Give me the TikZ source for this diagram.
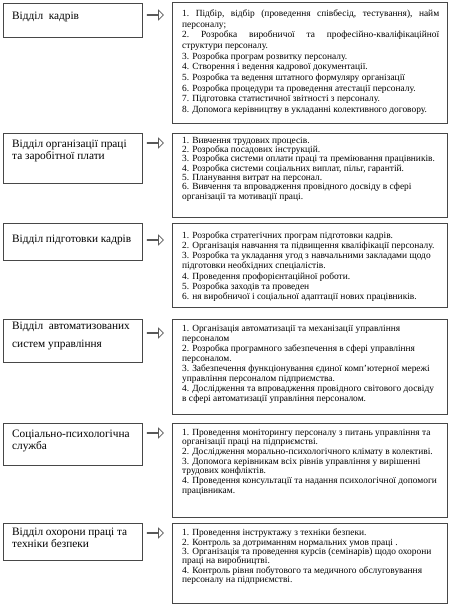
\documentclass[tikz,border=0pt]{standalone}
\usepackage{fontspec}
\setmainfont{Liberation Serif}
\usetikzlibrary{shapes.arrows}
\newcommand\jline[1]{\makebox[257pt][s]{\frenchspacing\spaceskip=0pt\xspaceskip=0pt #1}}
\newcommand\nsp{\hspace{3pt}}
\tikzset{
  boxline/.style={draw=black!72, line width=1.1pt, rectangle, inner sep=0pt, anchor=north west},
  leftbox/.style={boxline, minimum width=139pt},
  rightbox/.style={boxline, minimum width=275pt},
  ltext/.style={anchor=north west, inner sep=0pt, align=flush left, font=\fontsize{11.3}{12}\selectfont},
  rtext/.style={anchor=north west, inner sep=0pt, text width=262pt, align=flush left},
  blockarrow/.style={single arrow, draw=black!65, fill=white, line width=0.7pt,
    minimum height=16pt, minimum width=9.5pt, single arrow head extend=2.6pt, inner sep=0pt}
}
\begin{document}
\begin{tikzpicture}[x=1pt, y=-1pt]
\useasboundingbox (0,0) rectangle (452,607);
% ---------- row 1
\node[leftbox, minimum height=34pt] (l1) at (3,3) {};
\node[ltext] (lt1) at (12,12) {Відділ\ \ кадрів};
\node[blockarrow] (a1) at (155,15) {};
\node[rightbox, minimum height=121pt] (r1) at (172,2) {};
\node[rtext, font=\fontsize{9.4}{10.67}\selectfont] (rt1) at (182,9.7) {%
\jline{1. Підбір, відбір (проведення співбесід, тестування), найм}\\
персоналу;\\
\jline{2. Розробка виробничої та професійно-кваліфікаційної}\\
структури персоналу.\\
3.\nsp Розробка програм розвитку персоналу.\\
4.\nsp Створення і ведення кадрової документації.\\
5.\nsp Розробка та ведення штатного формуляру організації\\
6.\nsp Розробка процедури та проведення атестації персоналу.\\
7.\nsp Підготовка статистичної звітності з персоналу.\\
8.\nsp Допомога керівництву в укладанні колективного договору.};
% ---------- row 2
\node[leftbox, minimum height=50pt] (l2) at (3,133) {};
\node[ltext] (lt2) at (12,140) {Відділ організації праці\\та заробітної плати};
\node[blockarrow] (a2) at (155,143) {};
\node[rightbox, minimum height=84pt] (r2) at (172,133) {};
\node[rtext, font=\fontsize{9.4}{9.33}\selectfont] (rt2) at (182,136.7) {%
1.\nsp Вивчення трудових процесів.\\
2.\nsp Розробка посадових інструкцій.\\
3.\nsp Розробка системи оплати праці та преміювання працівників.\\
4.\nsp Розробка системи соціальних виплат, пільг, гарантій.\\
5.\nsp Планування витрат на персонал.\\
6.\nsp Вивчення та впровадження провідного досвіду в сфері\\
організації та мотивації праці.};
% ---------- row 3
\node[leftbox, minimum height=37pt] (l3) at (3,223) {};
\node[ltext] (lt3) at (12,235) {Відділ підготовки кадрів};
\node[blockarrow] (a3) at (155,240) {};
\node[rightbox, minimum height=84pt] (r3) at (172,223) {};
\node[rtext, font=\fontsize{9.4}{10.1}\selectfont] (rt3) at (182,231.7) {%
1.\nsp Розробка стратегічних програм підготовки кадрів.\\
2.\nsp Організація навчання та підвищення кваліфікації персоналу.\\
3.\nsp Розробка та укладання угод з навчальними закладами щодо\\
підготовки необхідних спеціалістів.\\
4.\nsp Проведення профорієнтаційної роботи.\\
5.\nsp Розробка заходів та проведен\\
6.\nsp ня виробничої і соціальної адаптації нових працівників.};
% ---------- row 4
\node[leftbox, minimum height=43pt] (l4) at (3,319) {};
\node[ltext, font=\fontsize{11.3}{18}\selectfont] (lt4) at (12,322) {Відділ\ \ автоматизованих\\систем управління};
\node[blockarrow] (a4) at (155,333) {};
\node[rightbox, minimum height=95pt] (r4) at (172,319) {};
\node[rtext, font=\fontsize{9.4}{10}\selectfont] (rt4) at (182,324.7) {%
1.\nsp Організація автоматизації та механізації управління\\
персоналом\\
2.\nsp Розробка програмного забезпечення в сфері управління\\
персоналом.\\
3.\nsp Забезпечення функціонування єдиної комп'ютерної мережі\\
управління персоналом підприємства.\\
4.\nsp Дослідження та впровадження провідного світового досвіду\\
в сфері автоматизації управління персоналом.};
% ---------- row 5
\node[leftbox, minimum height=42pt] (l5) at (3,423) {};
\node[ltext, font=\fontsize{11.3}{11.5}\selectfont] (lt5) at (12,430) {Соціально-психологічна\\служба};
\node[blockarrow] (a5) at (155,433) {};
\node[rightbox, minimum height=94pt] (r5) at (172,423) {};
\node[rtext, font=\fontsize{9.4}{9.67}\selectfont] (rt5) at (182,428.7) {%
1.\nsp Проведення моніторингу персоналу з питань управління та\\
організації праці на підприємстві.\\
2.\nsp Дослідження морально-психологічного клімату в колективі.\\
3.\nsp Допомога керівникам всіх рівнів управління у вирішенні\\
трудових конфліктів.\\
4.\nsp Проведення консультації та надання психологічної допомоги\\
працівникам.};
% ---------- row 6
\node[leftbox, minimum height=37pt] (l6) at (3,523) {};
\node[ltext] (lt6) at (12,528) {Відділ охорони праці та\\техніки безпеки};
\node[blockarrow] (a6) at (155,533) {};
\node[rightbox, minimum height=80pt] (r6) at (172,523) {};
\node[rtext, font=\fontsize{9.4}{9.4}\selectfont] (rt6) at (182,528.7) {%
1.\nsp Проведення інструктажу з техніки безпеки.\\
2.\nsp Контроль за дотриманням нормальних умов праці .\\
3.\nsp Організація та проведення курсів (семінарів) щодо охорони\\
праці на виробництві.\\
4.\nsp Контроль рівня побутового та медичного обслуговування\\
персоналу на підприємстві.};
\end{tikzpicture}
\end{document}
